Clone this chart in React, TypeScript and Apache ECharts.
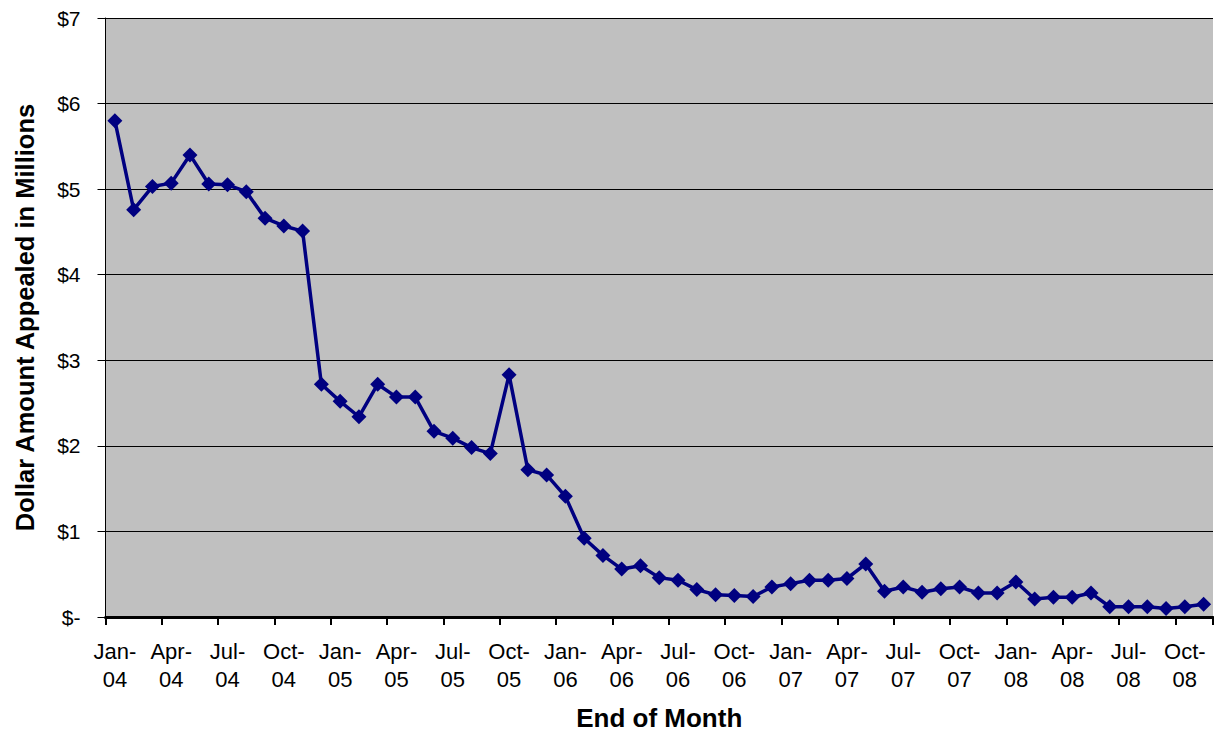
import React, { useEffect, useRef } from "react";
import * as echarts from "echarts";

const months = ["Jan", "Feb", "Mar", "Apr", "May", "Jun", "Jul", "Aug", "Sep", "Oct", "Nov", "Dec"];
const years = ["04", "05", "06", "07", "08"];
const categories: string[] = [];
years.forEach((y) => months.forEach((m) => categories.push(`${m}-${y}`)));
categories.splice(59); // Jan-04 .. Nov-08

const amounts = [
  5.8, 4.76, 5.03, 5.07, 5.4, 5.06, 5.05, 4.97, 4.66, 4.57, 4.51, 2.72,
  2.52, 2.34, 2.72, 2.57, 2.57, 2.17, 2.09, 1.98, 1.91, 2.83, 1.72, 1.66,
  1.41, 0.92, 0.72, 0.56, 0.6, 0.46, 0.43, 0.32, 0.26, 0.25, 0.24, 0.35,
  0.39, 0.43, 0.43, 0.45, 0.62, 0.3, 0.35, 0.29, 0.33, 0.35, 0.28, 0.28,
  0.41, 0.21, 0.23, 0.23, 0.28, 0.12, 0.12, 0.12, 0.1, 0.12, 0.15,
];

const yTitle = "Dollar Amount Appealed in Millions";
const xTitle = "End of Month";

const FONT = "'Liberation Sans', Arial, Helvetica, sans-serif";

export default function App() {
  const ref = useRef<HTMLDivElement>(null);
  useEffect(() => {
    if (!ref.current) return;
    const chart = echarts.init(ref.current, undefined, { renderer: "svg" });
    chart.setOption({
      animation: false,
      backgroundColor: "#ffffff",
      grid: {
        left: 105.5,
        right: 1,
        top: 18,
        bottom: 109,
        show: true,
        backgroundColor: "#C0C0C0",
        borderWidth: 0,
      },
      xAxis: {
        type: "category",
        data: categories,
        boundaryGap: true,
        name: xTitle,
        nameLocation: "middle",
        nameGap: 88,
        nameTextStyle: { fontFamily: FONT, fontSize: 26, fontWeight: "bold", color: "#000" },
        axisLine: { show: true, lineStyle: { color: "#000", width: 3 } },
        axisTick: { show: true, interval: 2, length: 8, lineStyle: { color: "#000", width: 2 } },
        axisLabel: {
          interval: 2,
          margin: 20,
          fontFamily: FONT,
          fontSize: 22,
          lineHeight: 28,
          color: "#000",
          formatter: (v: string) => v.replace("-", "-\n"),
        },
        splitLine: { show: false },
      },
      yAxis: {
        type: "value",
        min: 0,
        max: 7,
        interval: 1,
        name: yTitle,
        nameLocation: "middle",
        nameGap: 68,
        nameTextStyle: { fontFamily: FONT, fontSize: 25.5, fontWeight: "bold", color: "#000" },
        axisLine: { show: true, lineStyle: { color: "#000", width: 1 } },
        axisTick: { show: true, length: 8, lineStyle: { color: "#000", width: 1 } },
        axisLabel: {
          margin: 25,
          fontFamily: FONT,
          fontSize: 21,
          color: "#000",
          formatter: (v: number) => (v === 0 ? "$-" : `$${v}`),
        },
        splitLine: { show: true, lineStyle: { color: "#000", width: 1 } },
      },
      series: [
        {
          type: "line",
          data: amounts,
          symbol: "diamond",
          symbolSize: 15,
          showAllSymbol: true,
          lineStyle: { color: "#000080", width: 3.5 },
          itemStyle: { color: "#000080" },
        },
      ],
    });
    return () => chart.dispose();
  }, []);
  return (
    <div
      ref={ref}
      style={{ position: "fixed", left: 0, top: 0, width: 1214, height: 736, background: "#fff" }}
    />
  );
}
